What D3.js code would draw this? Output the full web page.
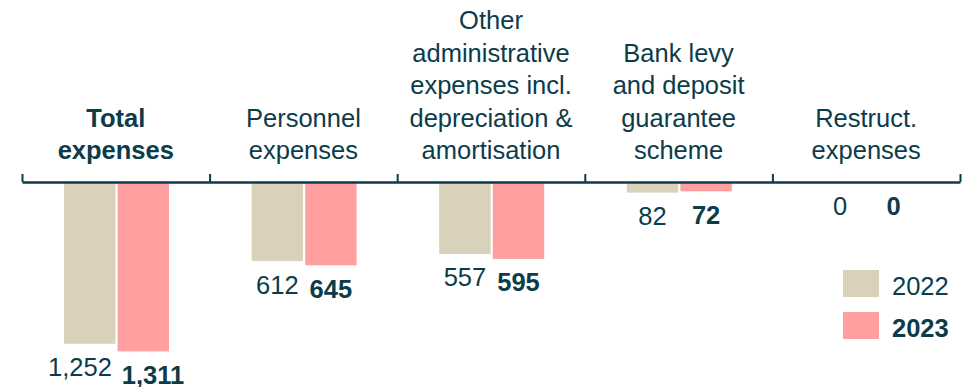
<!DOCTYPE html>
<html>
<head>
<meta charset="utf-8">
<script src="https://cdn.jsdelivr.net/npm/d3@7"></script>
<style>
  html, body { margin: 0; padding: 0; background: #ffffff; }
  svg { display: block; font-family: "Liberation Sans", Arial, sans-serif; }
</style>
</head>
<body>
<svg id="chart" width="971" height="387"></svg>
<script>
// Operating expenses by category, 2022 vs 2023
const categories = [
  ["Total", "expenses"],
  ["Personnel", "expenses"],
  ["Other", "administrative", "expenses incl.", "depreciation &", "amortisation"],
  ["Bank levy", "and deposit", "guarantee", "scheme"],
  ["Restruct.", "expenses"]
];
const boldCategory = [true, false, false, false, false];
const years = ["2022", "2023"];
const values2022 = [1252, 612, 557, 82, 0];
const values2023 = [1311, 645, 595, 72, 0];
const valueLabels2022 = ["1,252", "612", "557", "82", "0"];
const valueLabels2023 = ["1,311", "645", "595", "72", "0"];

const W = 971, H = 387;
const ink = "#0c3c4a";
const colors = { "2022": "#d9d1b9", "2023": "#ff9f9f" };
const fontSize = 25.5;

const svg = d3.select("#chart");

const idx = d3.range(categories.length);
const x0 = d3.scaleBand().domain(idx).range([22, 960]).padding(0);
const x1 = d3.scaleBand().domain(years).range([42, 147]).paddingInner(0.04).paddingOuter(0);
const y = d3.scaleLinear().domain([0, 1400]).range([182, 182 + 1400 * 0.1292]);

const series = { "2022": values2022, "2023": values2023 };
const labels = { "2022": valueLabels2022, "2023": valueLabels2023 };

// Bars hanging below the axis
const groups = svg.append("g").selectAll("g")
  .data(idx).join("g")
  .attr("transform", i => `translate(${x0(i)},0)`);

groups.selectAll("rect")
  .data(i => years.map(yr => ({ yr, v: series[yr][i] })))
  .join("rect")
  .attr("x", d => x1(d.yr))
  .attr("width", x1.bandwidth())
  .attr("y", y(0))
  .attr("height", d => y(d.v) - y(0))
  .attr("fill", d => colors[d.yr]);

// Axis line with tick marks at category boundaries
const axisG = svg.append("g").attr("transform", `translate(0,${y(0)})`);
const boundaries = idx.map(i => x0(i)).concat([x0.range()[1]]);
axisG.call(d3.axisTop(d3.scaleLinear().domain([22, 960]).range([22, 960]))
  .tickValues(boundaries).tickSize(8).tickSizeOuter(0).tickFormat(""));
axisG.select(".domain").attr("stroke", ink).attr("stroke-width", 2.4);
axisG.selectAll(".tick line").attr("stroke", ink).attr("stroke-width", 2);

// Value labels below each bar, pushed apart where neighbours would collide
const gap = 10;
idx.forEach(i => {
  const items = years.map(yr => {
    const cx = x0(i) + x1(yr) + x1.bandwidth() / 2;
    const t = svg.append("text")
      .attr("y", y(series[yr][i]) + 32.5)
      .attr("text-anchor", "middle")
      .attr("font-size", fontSize)
      .attr("font-weight", yr === "2023" ? "bold" : "normal")
      .attr("fill", ink)
      .text(labels[yr][i]);
    return { t, cx, w: t.node().getComputedTextLength() };
  });
  const [a, b] = items;
  const overlap = (a.cx + a.w / 2) - (b.cx - b.w / 2) + gap;
  if (overlap > 0) { a.cx -= overlap / 2; b.cx += overlap / 2; }
  items.forEach(it => it.t.attr("x", it.cx));
});

// Category headings stacked upward from a common baseline
const lineH = 32.5, lastBaseline = 159;
idx.forEach(i => {
  const lines = categories[i];
  const cx = x0(i) + x0.bandwidth() / 2;
  const t = svg.append("text")
    .attr("text-anchor", "middle")
    .attr("font-size", fontSize)
    .attr("font-weight", boldCategory[i] ? "bold" : "normal")
    .attr("fill", ink);
  lines.forEach((ln, k) => {
    t.append("tspan")
      .attr("x", cx)
      .attr("y", lastBaseline - (lines.length - 1 - k) * lineH)
      .text(ln);
  });
});

// Legend
const legend = svg.append("g").attr("transform", "translate(843,270)");
years.forEach((yr, k) => {
  const g = legend.append("g").attr("transform", `translate(0,${k * 42})`);
  g.append("rect").attr("width", 36).attr("height", 27).attr("fill", colors[yr]);
  g.append("text")
    .attr("x", 49).attr("y", 25)
    .attr("font-size", fontSize)
    .attr("font-weight", yr === "2023" ? "bold" : "normal")
    .attr("fill", ink)
    .text(yr);
});
</script>
</body>
</html>
